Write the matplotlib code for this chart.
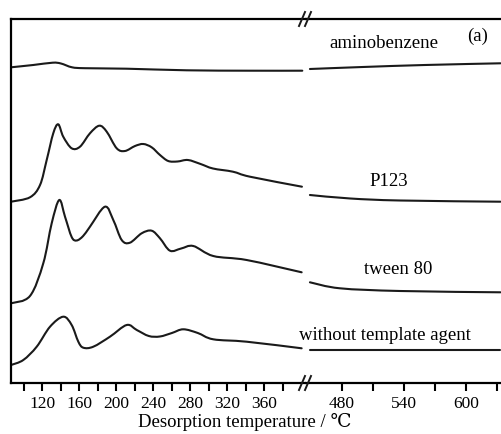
import numpy as np
import matplotlib
matplotlib.use("Agg")
import matplotlib.pyplot as plt
from matplotlib.path import Path
from matplotlib.patches import PathPatch
from matplotlib.ticker import FixedLocator

plt.rcParams['font.family'] = ['Liberation Serif', 'DejaVu Serif']

# TPD curves, intensity in arbitrary units (stacked), split at the axis break
amino_t_lo = [86, 110, 131, 140, 152, 166, 211, 276, 344, 401]
amino_i_lo = [315.7, 318.0, 320.3, 319.5, 315.7, 314.8, 314.3, 312.7, 312.3, 312.3]
amino_t_hi = [449, 500, 560, 633]
amino_i_hi = [314.0, 316.0, 318.0, 319.7]

p123_t_lo = [86, 106.5, 117.4, 124.6, 131.7, 137.1, 142.5, 151.6, 160.6, 171.4, 181.5,
             189.5, 200.3, 209.2, 220.1, 229.0, 238.1, 247.1, 256.0, 266.0, 277.3,
             291.0, 304.4, 326.0, 344.4, 400.6]
p123_i_lo = [181.3, 185.7, 198.0, 223.0, 249.7, 258.7, 246.3, 234.7, 236.3, 249.7, 257.3,
             251.3, 234.7, 232.0, 237.0, 239.0, 235.7, 228.0, 222.0, 221.5, 223.0,
             219.0, 214.5, 211.3, 206.3, 196.3]
p123_t_hi = [449, 488, 536, 633]
p123_i_hi = [188.0, 184.5, 182.5, 181.3]

tween_t_lo = [86, 106.5, 120.9, 130.0, 138.2, 144.4, 151.6, 157.0, 164.0, 171.4, 187.6,
              196.6, 205.7, 214.6, 227.3, 238.1, 247.1, 257.9, 270.0, 283.1, 304.7,
              340.8, 400.3]
tween_i_lo = [79.7, 87.0, 119.7, 159.7, 183.0, 166.3, 146.0, 142.5, 147.0, 156.3, 176.3,
              163.0, 143.0, 140.3, 149.7, 152.3, 144.7, 132.3, 134.5, 137.0, 127.0,
              123.0, 110.7]
tween_t_hi = [449, 478, 536, 633]
tween_i_hi = [100.7, 94.7, 92.0, 90.7]

none_t_lo = [86, 99.3, 113.8, 128.2, 142.5, 151.6, 158.8, 164.2, 175.0, 193.0, 211.1,
             222.0, 235.0, 247.0, 260.0, 272.3, 288.0, 304.7, 340.8, 400.3]
none_i_lo = [18.0, 23.0, 36.3, 56.3, 66.3, 58.0, 41.3, 35.3, 36.3, 46.3, 58.0,
             53.0, 47.0, 46.5, 50.0, 53.7, 50.0, 43.7, 41.3, 34.7]
none_t_hi = [449, 633]
none_i_hi = [33.0, 33.0]

labels = ['aminobenzene', 'P123', 'tween 80', 'without template agent']
# label centres in picture pixels from the top-left
label_pos = [(384, 44), (389, 182), (398, 270), (385, 335)]


def smooth_curve(ax, xs, ys, **kw):
    # Catmull-Rom through the read points, drawn as cubic Bezier segments
    p = np.column_stack([xs, ys]).astype(float)
    n = len(p)
    if n < 3:
        ax.plot(xs, ys, color=kw['color'], lw=kw['lw'], solid_capstyle='round')
        return
    verts = [p[0]]
    codes = [Path.MOVETO]
    for i in range(n - 1):
        p0 = p[i - 1] if i > 0 else p[i]
        p3 = p[i + 2] if i + 2 < n else p[i + 1]
        c1 = p[i] + (p[i + 1] - p0) / 6.0
        c2 = p[i + 1] - (p3 - p[i]) / 6.0
        verts += [c1, c2, p[i + 1]]
        codes += [Path.CURVE4] * 3
    ax.add_patch(PathPatch(Path(verts, codes), fill=False, edgecolor=kw['color'],
                           lw=kw['lw'], capstyle='round', joinstyle='round'))


W, H = 502, 434
fig = plt.figure(figsize=(W / 100, H / 100), dpi=100)
ax1 = fig.add_axes([11 / W, (H - 383) / H, 295 / W, 364 / H])
ax2 = fig.add_axes([306 / W, (H - 383) / H, 210 / W, 364 / H])

for ax in (ax1, ax2):
    ax.set_ylim(0, 364)
    ax.set_yticks([])
    for s in ax.spines.values():
        s.set_linewidth(1.6)
    ax.tick_params(axis='x', which='both', direction='out', width=1.5, length=6,
                   labelsize=12.5, pad=3)

ax1.spines['right'].set_visible(False)
ax2.spines['left'].set_visible(False)
ax2.spines['right'].set_visible(False)

ax1.set_xlim(86, 405)
ax2.set_xlim(445.2, 648)

ax1.xaxis.set_major_locator(FixedLocator([120, 160, 200, 240, 280, 320, 360]))
ax1.xaxis.set_minor_locator(FixedLocator([100, 140, 180, 220, 260, 300, 340, 380]))
ax2.xaxis.set_major_locator(FixedLocator([480, 540, 600]))
ax2.xaxis.set_minor_locator(FixedLocator([510, 570, 630]))

kw = dict(color='#1a1a1a', lw=1.5)
smooth_curve(ax1, amino_t_lo, amino_i_lo, **kw)
smooth_curve(ax2, amino_t_hi, amino_i_hi, **kw)
smooth_curve(ax1, p123_t_lo, p123_i_lo, **kw)
smooth_curve(ax2, p123_t_hi, p123_i_hi, **kw)
smooth_curve(ax1, tween_t_lo, tween_i_lo, **kw)
smooth_curve(ax2, tween_t_hi, tween_i_hi, **kw)
smooth_curve(ax1, none_t_lo, none_i_lo, **kw)
smooth_curve(ax2, none_t_hi, none_i_hi, **kw)

for lab, (px, py) in zip(labels, label_pos):
    fig.text(px / W, (H - py) / H, lab, ha='center', va='center', fontsize=13.5)
fig.text(478 / W, (H - 36) / H, '(a)', ha='center', va='center', fontsize=13.5)

fig.text(245 / W, (H - 422) / H, 'Desorption temperature / \u2103', ha='center', va='center',
         fontsize=13.5)

# axis break marks
for y0 in (H - 19, H - 383):
    for dx in (0, 6):
        fig.add_artist(plt.Line2D([(299 + dx) / W, (305 + dx) / W],
                                  [(y0 - 7) / H, (y0 + 7) / H],
                                  color='#1a1a1a', lw=1.4))

fig.savefig('out.png', dpi=100)
